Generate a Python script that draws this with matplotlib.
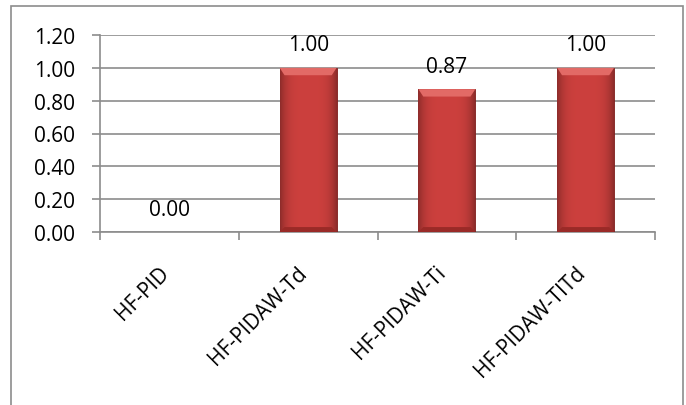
import matplotlib.pyplot as plt
import numpy as np
from matplotlib.patches import Rectangle, Polygon

categories = ['HF-PID', 'HF-PIDAW-Td', 'HF-PIDAW-Ti', 'HF-PIDAW-TITd']
values = [0.00, 1.00, 0.87, 1.00]
yticks = [0.0, 0.2, 0.4, 0.6, 0.8, 1.0, 1.2]

plt.rcParams['font.family'] = ['Open Sans', 'DejaVu Sans']

W, H = 686, 406
fig = plt.figure(figsize=(W / 100, H / 100), dpi=100)
ax = fig.add_axes([100 / W, 1 - 233 / H, 555 / W, 197 / H])

# outer chart frame (bottom edge runs off the image)
frame = Rectangle((11 / W, -0.05), 672 / W, 1 - 7 / H + 0.05,
                  transform=fig.transFigure, fill=False, edgecolor='#8c8c8c', linewidth=1.2)
fig.patches.append(frame)

x = np.arange(len(categories))
width = 0.41
bars = ax.bar(x, values, width=width, color='#c8403e', edgecolor='#7a1c1a', linewidth=0.6, zorder=3)

# horizontal shading across each bar, darker toward the sides
grad = np.linspace(-1, 1, 64)
shade = 1 - 0.30 * np.abs(grad) ** 4
base = np.array([0.80, 0.25, 0.24])
img = shade[None, :, None] * base[None, None, :]
bev = 0.045
for b in bars:
    h = b.get_height()
    if h <= 0:
        continue
    x0 = b.get_x()
    im = ax.imshow(img, extent=[x0, x0 + width, 0, h], aspect='auto', zorder=3.5,
                   interpolation='bilinear')
    im.set_clip_path(b)
    # bevel: light top, dark bottom
    ax.add_patch(Polygon([(x0, h), (x0 + width, h), (x0 + width - 0.035, h - bev),
                          (x0 + 0.035, h - bev)], closed=True,
                         facecolor='#e26a66', edgecolor='none', zorder=3.6))
    ax.add_patch(Polygon([(x0, 0), (x0 + width, 0), (x0 + width - 0.035, 0.03),
                          (x0 + 0.035, 0.03)], closed=True,
                         facecolor='#9a2a27', edgecolor='none', zorder=3.6))

for xi, v in zip(x, values):
    ax.annotate(f'{v:.2f}', (xi, v), xytext=(0, 12.5), textcoords='offset points',
                ha='center', va='baseline', fontsize=15, color='black', zorder=5)

ax.set_xlim(-0.5, len(categories) - 0.5)
ax.set_ylim(0, 1.2)
ax.set_yticks(yticks)
ax.set_yticklabels([f'{t:.2f}' for t in yticks], fontsize=15)
ax.set_xticks(np.arange(len(categories) + 1) - 0.5, minor=True)
ax.set_xticks(x)
ax.set_xticklabels(categories, rotation=45, ha='right', va='baseline',
                   rotation_mode='anchor', fontsize=15)
ax.tick_params(axis='x', which='major', length=0, pad=29.5)
ax.tick_params(axis='x', which='minor', length=6, width=1.2, color='#8c8c8c', direction='out')
ax.tick_params(axis='y', length=6, width=1.2, color='#8c8c8c', direction='out', pad=12)

ax.grid(axis='y', color='#8c8c8c', linewidth=1.2, zorder=0)
ax.set_axisbelow(True)
for side in ['top', 'right']:
    ax.spines[side].set_visible(False)
for side in ['left', 'bottom']:
    ax.spines[side].set_color('#8c8c8c')
    ax.spines[side].set_linewidth(1.2)

fig.savefig('out.png', dpi=100)
